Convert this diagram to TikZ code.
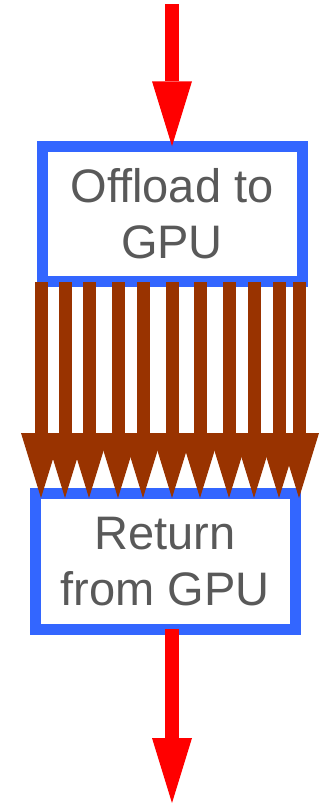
\documentclass[tikz,border=0pt]{standalone}
\usepackage{fontspec}
\setmainfont{Liberation Sans}
\usetikzlibrary{arrows.meta}
\definecolor{boxblue}{HTML}{3366FF}
\definecolor{flowred}{HTML}{FF0000}
\definecolor{gpubrown}{HTML}{993300}
\definecolor{txtgray}{HTML}{595959}
\begin{document}
\begin{tikzpicture}[x=1pt,y=1pt,
  stagebox/.style={draw=boxblue, fill=white, line width=11pt, rectangle,
    minimum width=260pt, minimum height=135.5pt, inner sep=0pt, outer sep=0pt,
    align=center, text=txtgray, font=\fontsize{47}{56}\selectfont},
  redflow/.style={draw=flowred, line width=14pt,
    -{Triangle[width=40pt,length=65pt,line width=0pt]}},
  gpuflow/.style={draw=gpubrown, line width=13pt,
    -{Triangle[width=40pt,length=65pt,line width=0pt]}}]
\useasboundingbox (0,0) rectangle (323,-803);
\node[stagebox] (off) at (172,-214) {Offload to\\GPU};
\node[stagebox] (ret) at (165.25,-561.5) {Return\\from GPU};
% red input / output
\coordinate (in) at (172,-4);
\coordinate (out) at (172,-803);
\draw[redflow] (in) -- (off.north);
\draw[redflow] (ret.south -| out) -- (out);
% brown parallel arrows
\foreach \i/\x in {1/41,2/65,3/89,4/118,5/143,6/172,7/200,8/229,9/254,10/279,11/299}{
  \coordinate (s\i) at (\x,-282);
  \coordinate (e\i) at (\x,-498);
  \draw[gpuflow] (s\i) -- (e\i);
}
\end{tikzpicture}
\end{document}
